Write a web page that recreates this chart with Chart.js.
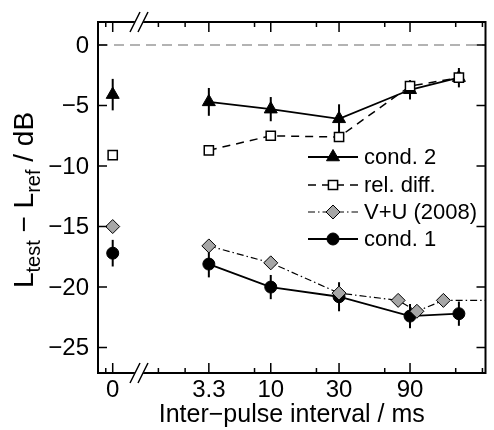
<!DOCTYPE html>
<html>
<head>
<meta charset="utf-8">
<script src="https://cdn.jsdelivr.net/npm/chart.js@4/dist/chart.umd.min.js"></script>
<style>
  html, body { margin: 0; padding: 0; background: #fff; }
</style>
</head>
<body>
<canvas id="chart" width="494" height="430"></canvas>
<script>
    // x axis: inter-pulse interval in ms (axis is log10(ms + 1))
    const xTickMs = [0, 3.3, 10, 30, 90];
    const xTickLabels = ['0', '3.3', '10', '30', '90'];
    const xMinorMs = [-0.1, 1, 2, 7.6, 21, 61, 181, 272];
    const yTicks = [0, -5, -10, -15, -20, -25];

    // measured conditions
    const isiMs = [0, 3.3, 10, 30, 90, 190];
    const cond2 = [-4.1, -4.7, -5.3, -6.1, -3.7, -2.7];
    const cond2Err = [1.3, 1.15, 1.0, 1.2, 0.8, 0.8];
    const relDiff = [-9.1, -8.7, -7.5, -7.6, -3.4, -2.7];
    const cond1 = [-17.2, -18.1, -20.0, -20.8, -22.4, -22.2];
    const cond1Err = [1.1, 1.1, 1.0, 1.2, 1.0, 1.0];

    // Verhey + Uhlemann (2008)
    const vuMs = [0, 3.3, 10, 30, 75, 100, 150, 400];
    const vu = [-15.0, -16.6, -18.0, -20.5, -21.1, -22.0, -21.1, -21.1];

    const toAxis = ms => Math.log10(ms + 1);
    const toPoints = (xs, ys) => xs.map((v, i) => ({ x: toAxis(v), y: ys[i] }));

    const FAMILY = '"Liberation Sans", Arial, sans-serif';
    const TICKFONT = '24px ' + FAMILY;
    const TITLEFONT = '25px ' + FAMILY;
    const LEGFONT = '22px ' + FAMILY;
    const YFONT = '28px ' + FAMILY;
    const YSUBFONT = '20px ' + FAMILY;

    // the 0 ms point sits left of the axis break, so no line goes from it
    const noFirstSegment = { borderColor: c => c.p0DataIndex === 0 ? 'rgba(0,0,0,0)' : undefined };

    const datasets = [
        {
            label: 'rel. diff.', data: toPoints(isiMs, relDiff), order: 0,
            borderColor: '#000', borderWidth: 1.5, borderDash: [8, 6], segment: noFirstSegment,
            pointStyle: 'rect', pointRadius: 6.5, pointBorderWidth: 1.5,
            pointBackgroundColor: '#fff', pointBorderColor: '#000'
        },
        {
            label: 'cond. 2', data: toPoints(isiMs, cond2), order: 1, err: cond2Err,
            borderColor: '#000', borderWidth: 1.8, segment: noFirstSegment,
            pointStyle: 'triangle', pointRadius: 7.5, pointBorderWidth: 1,
            pointBackgroundColor: '#000', pointBorderColor: '#000'
        },
        {
            label: 'V+U (2008)', data: toPoints(vuMs, vu), order: 2,
            borderColor: '#000', borderWidth: 1.2, borderDash: [7, 3, 1.5, 3], segment: noFirstSegment,
            pointStyle: 'rectRot', pointRadius: 7, pointBorderWidth: 1,
            pointBackgroundColor: '#a6a6a6', pointBorderColor: '#000'
        },
        {
            label: 'cond. 1', data: toPoints(isiMs, cond1), order: 3, err: cond1Err,
            borderColor: '#000', borderWidth: 1.8, segment: noFirstSegment,
            pointStyle: 'circle', pointRadius: 6, pointBorderWidth: 1,
            pointBackgroundColor: '#000', pointBorderColor: '#000'
        }
    ];

    const legendOrder = ['cond. 2', 'rel. diff.', 'V+U (2008)', 'cond. 1'];

    function drawMarker(ctx, ds, x, y) {
        ctx.save();
        ctx.setLineDash([]);
        ctx.fillStyle = ds.pointBackgroundColor;
        ctx.strokeStyle = ds.pointBorderColor;
        ctx.lineWidth = ds.pointBorderWidth;
        Chart.helpers.drawPoint(ctx, {
            pointStyle: ds.pointStyle, radius: ds.pointRadius,
            borderWidth: ds.pointBorderWidth, rotation: 0
        }, x, y);
        ctx.restore();
    }

    // text made of pieces, some as subscripts; drawn centred at (0,0)
    function drawRich(ctx, parts) {
        let total = 0;
        parts.forEach(p => {
            ctx.font = p.sub ? YSUBFONT : YFONT;
            p.w = ctx.measureText(p.t).width;
            total += p.w;
        });
        let cx = -total / 2;
        parts.forEach(p => {
            ctx.font = p.sub ? YSUBFONT : YFONT;
            ctx.fillText(p.t, cx, p.sub ? 7 : 0);
            cx += p.w;
        });
    }

    const decor = {
        id: 'decor',
        beforeDatasetsDraw(chart) {
            const { ctx, chartArea: a, scales: { y } } = chart;
            // zero reference line
            ctx.save();
            ctx.strokeStyle = '#9a9a9a';
            ctx.lineWidth = 1.5;
            ctx.setLineDash([10, 6]);
            const y0 = y.getPixelForValue(0);
            ctx.beginPath();
            ctx.moveTo(a.left, y0);
            ctx.lineTo(a.right, y0);
            ctx.stroke();
            ctx.restore();

            // error bars
            ctx.save();
            ctx.strokeStyle = '#000';
            ctx.lineWidth = 2;
            chart.data.datasets.forEach((ds, i) => {
                if (!ds.err) return;
                const meta = chart.getDatasetMeta(i);
                meta.data.forEach((pt, j) => {
                    const v = ds.data[j].y;
                    ctx.beginPath();
                    ctx.moveTo(pt.x, y.getPixelForValue(v - ds.err[j]));
                    ctx.lineTo(pt.x, y.getPixelForValue(v + ds.err[j]));
                    ctx.stroke();
                });
            });
            ctx.restore();
        },
        afterDraw(chart) {
            const { ctx, chartArea: a, scales: { x, y } } = chart;
            ctx.save();
            ctx.strokeStyle = '#000';
            ctx.fillStyle = '#000';
            ctx.lineWidth = 2;
            ctx.setLineDash([]);
            ctx.strokeRect(a.left, a.top, a.right - a.left, a.bottom - a.top);

            // inward ticks
            ctx.lineWidth = 1.5;
            const vTick = (px, len) => {
                ctx.beginPath();
                ctx.moveTo(px, a.bottom); ctx.lineTo(px, a.bottom - len);
                ctx.moveTo(px, a.top); ctx.lineTo(px, a.top + len);
                ctx.stroke();
            };
            xTickMs.forEach(ms => vTick(x.getPixelForValue(toAxis(ms)), 10));
            xMinorMs.forEach(ms => vTick(x.getPixelForValue(toAxis(ms)), 5));
            yTicks.forEach(v => {
                const py = y.getPixelForValue(v);
                ctx.beginPath();
                ctx.moveTo(a.left, py); ctx.lineTo(a.left + 9, py);
                ctx.moveTo(a.right, py); ctx.lineTo(a.right - 9, py);
                ctx.stroke();
            });

            // axis break marks
            const bx = 139;
            [a.top, a.bottom].forEach(ye => {
                ctx.fillStyle = '#fff';
                ctx.beginPath();
                ctx.moveTo(bx - 8, ye + 4); ctx.lineTo(bx - 1, ye - 4);
                ctx.lineTo(bx + 8, ye - 4); ctx.lineTo(bx + 1, ye + 4);
                ctx.closePath();
                ctx.fill();
                ctx.lineWidth = 1.5;
                ctx.beginPath();
                ctx.moveTo(bx - 9, ye + 10); ctx.lineTo(bx + 1, ye - 10);
                ctx.moveTo(bx - 1, ye + 10); ctx.lineTo(bx + 9, ye - 10);
                ctx.stroke();
            });

            // tick labels
            ctx.fillStyle = '#000';
            ctx.font = TICKFONT;
            ctx.textAlign = 'right';
            ctx.textBaseline = 'middle';
            yTicks.forEach(v => {
                const lbl = v < 0 ? '\u2212' + Math.abs(v) : String(v);
                ctx.fillText(lbl, a.left - 9, y.getPixelForValue(v) + 1);
            });
            ctx.textAlign = 'center';
            ctx.textBaseline = 'top';
            xTickMs.forEach((ms, i) => {
                ctx.fillText(xTickLabels[i], x.getPixelForValue(toAxis(ms)), a.bottom + 5);
            });

            // axis titles
            ctx.font = TITLEFONT;
            ctx.textBaseline = 'alphabetic';
            ctx.fillText('Inter\u2212pulse interval / ms', (a.left + a.right) / 2, 422);
            ctx.save();
            ctx.translate(33, 200);
            ctx.rotate(-Math.PI / 2);
            ctx.textAlign = 'left';
            drawRich(ctx, [
                { t: 'L' }, { t: 'test', sub: true },
                { t: ' \u2212 L' }, { t: 'ref', sub: true }, { t: ' / dB' }
            ]);
            ctx.restore();

            // legend
            const lx0 = 308, lx1 = 358, lm = 333, lt = 364;
            const rows = [157, 185, 212, 239];
            legendOrder.forEach((name, k) => {
                const ds = chart.data.datasets.find(d => d.label === name);
                const ry = rows[k];
                ctx.save();
                ctx.strokeStyle = ds.borderColor;
                ctx.lineWidth = ds.borderWidth;
                ctx.setLineDash(ds.borderDash || []);
                ctx.beginPath();
                ctx.moveTo(lx0, ry); ctx.lineTo(lx1, ry);
                ctx.stroke();
                ctx.restore();
                drawMarker(ctx, ds, lm, ry);
                ctx.fillStyle = '#000';
                ctx.font = LEGFONT;
                ctx.textAlign = 'left';
                ctx.textBaseline = 'middle';
                ctx.fillText(name, lt, ry + 1);
            });
            ctx.restore();
        }
    };

    new Chart(document.getElementById('chart'), {
        type: 'line',
        data: { datasets: datasets },
        options: {
            responsive: false,
            animation: false,
            layout: { padding: { left: 98, top: 22, right: 1, bottom: 57 } },
            elements: { line: { tension: 0 } },
            scales: {
                x: { type: 'linear', display: false, min: toAxis(-0.2), max: toAxis(285) },
                y: { type: 'linear', display: false, min: -27.1, max: 1.9 }
            },
            plugins: { legend: { display: false }, tooltip: { enabled: false } }
        },
        plugins: [decor]
    });
</script>
</body>
</html>
